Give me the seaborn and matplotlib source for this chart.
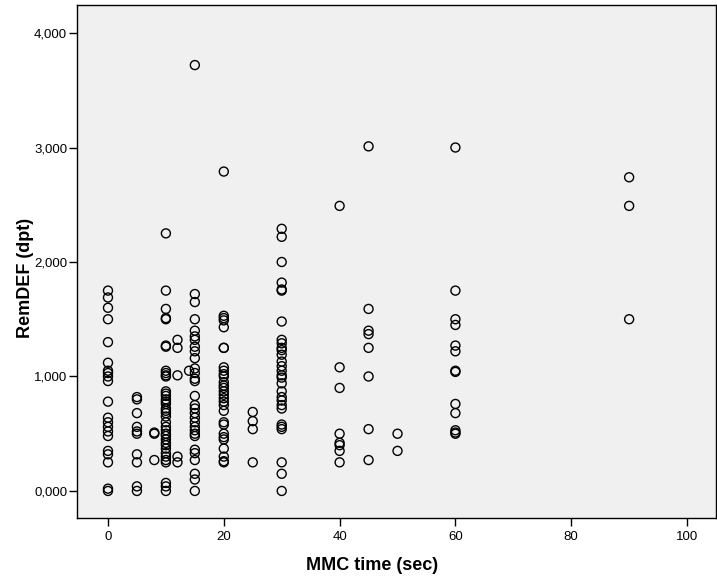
import pandas as pd
import matplotlib.pyplot as plt
import matplotlib.ticker as mticker
import seaborn as sns

# RemDEF (dpt) per MMC-time group (sec)
mmc_groups = [0, 5, 8, 10, 12, 14, 15, 20, 25, 30, 40, 45, 50, 60, 90]
rem_0 = [1.75, 1.69, 1.60, 1.50, 1.30, 1.12, 1.05, 1.03, 1.00, 0.96, 0.78, 0.64, 0.60,
         0.56, 0.52, 0.48, 0.35, 0.32, 0.25, 0.02, 0.00]
rem_5 = [0.82, 0.80, 0.68, 0.56, 0.52, 0.50, 0.32, 0.25, 0.04, 0.00]
rem_8 = [0.50, 0.51, 0.27]
rem_10 = [2.25, 1.75, 1.59, 1.51, 1.50, 1.27, 1.26, 1.05, 1.03, 1.01, 1.00, 0.87, 0.85,
          0.83, 0.80, 0.78, 0.76, 0.72, 0.70, 0.68, 0.65, 0.60, 0.56, 0.53, 0.50, 0.48,
          0.45, 0.42, 0.40, 0.37, 0.33, 0.30, 0.27, 0.25, 0.07, 0.04, 0.00]
rem_12 = [1.32, 1.25, 1.01, 0.30, 0.25]
rem_14 = [1.05]
rem_15 = [3.72, 1.72, 1.65, 1.50, 1.40, 1.35, 1.32, 1.26, 1.22, 1.16, 1.07, 1.03, 0.98,
          0.96, 0.83, 0.75, 0.72, 0.68, 0.64, 0.60, 0.56, 0.53, 0.50, 0.48, 0.36, 0.33,
          0.27, 0.15, 0.10, 0.00]
rem_20 = [2.79, 1.53, 1.51, 1.49, 1.43, 1.25, 1.25, 1.08, 1.05, 1.02, 1.00, 0.95, 0.92,
          0.90, 0.87, 0.84, 0.81, 0.78, 0.75, 0.70, 0.60, 0.58, 0.50, 0.47, 0.45, 0.37,
          0.30, 0.26, 0.25]
rem_25 = [0.69, 0.61, 0.54, 0.25]
rem_30 = [2.29, 2.22, 2.00, 1.82, 1.76, 1.75, 1.48, 1.32, 1.29, 1.25, 1.23, 1.19, 1.13,
          1.09, 1.05, 1.01, 0.99, 0.94, 0.87, 0.82, 0.79, 0.75, 0.72, 0.58, 0.56, 0.54,
          0.25, 0.15, 0.00]
rem_40 = [2.49, 1.08, 0.90, 0.50, 0.42, 0.40, 0.35, 0.25]
rem_45 = [3.01, 1.59, 1.40, 1.37, 1.25, 1.00, 0.54, 0.27]
rem_50 = [0.50, 0.35]
rem_60 = [3.00, 1.75, 1.50, 1.45, 1.27, 1.22, 1.05, 1.04, 0.76, 0.68, 0.53, 0.51, 0.50]
rem_90 = [2.74, 2.49, 1.50]

rem_groups = [rem_0, rem_5, rem_8, rem_10, rem_12, rem_14, rem_15, rem_20, rem_25,
              rem_30, rem_40, rem_45, rem_50, rem_60, rem_90]

rows = []
for t, vals in zip(mmc_groups, rem_groups):
    for v in vals:
        rows.append({'MMC': t, 'RemDEF': v})
df = pd.DataFrame(rows)

sns.set_style("ticks")
plt.rcParams['font.family'] = ['Liberation Sans', 'DejaVu Sans']

fig = plt.figure(figsize=(7.17, 5.79), dpi=100)
ax = fig.add_axes([0.1074, 0.1054, 0.8912, 0.886])
ax.set_facecolor('#F0F0F0')

sns.scatterplot(data=df, x='MMC', y='RemDEF', ax=ax, marker='o', s=42,
                facecolors='none', edgecolor='black', linewidth=1.0)

ax.set_xlim(-5.35, 105)
ax.set_ylim(-0.236, 4.245)
ax.set_xticks([0, 20, 40, 60, 80, 100])
ax.set_yticks([0, 1, 2, 3, 4])
ax.yaxis.set_major_formatter(mticker.FuncFormatter(lambda v, p: f"{v:.3f}".replace('.', ',')))

for side in ['left', 'bottom', 'top', 'right']:
    ax.spines[side].set_visible(True)
    ax.spines[side].set_color('black')
    ax.spines[side].set_linewidth(1.0)

ax.tick_params(axis='both', direction='out', length=6, width=1, color='black',
               labelsize=9.5, labelcolor='black')
ax.tick_params(axis='y', pad=1)
ax.set_xlabel('MMC time (sec)', fontsize=13, fontweight='bold', color='black')
ax.set_ylabel('RemDEF (dpt)', fontsize=13, fontweight='bold', color='black')
ax.xaxis.set_label_coords(0.462, -0.077)
ax.yaxis.set_label_coords(-0.068, 0.468)

plt.savefig('out.png', dpi=100)
plt.close()
